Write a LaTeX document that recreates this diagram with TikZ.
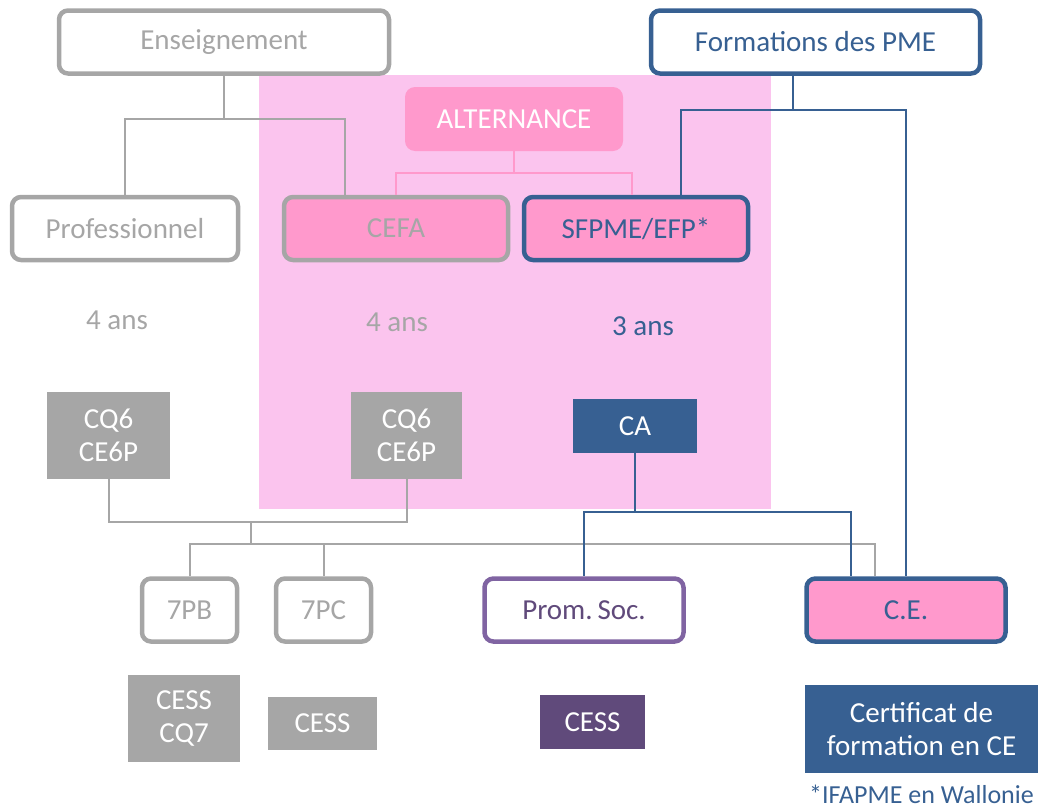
\documentclass[tikz,border=0pt]{standalone}
\usepackage{fontspec}
\setmainfont{Carlito}
\definecolor{cgray}{HTML}{A6A6A6}
\definecolor{cblue}{HTML}{376092}
\definecolor{cpink}{HTML}{FF99CC}
\definecolor{cpinkbg}{HTML}{FBC4EE}
\definecolor{cpurple}{HTML}{8064A2}
\definecolor{cdpurple}{HTML}{604A7B}
\tikzset{
    txt/.style={font=\fontsize{29}{33}\selectfont, inner sep=0pt, align=center},
    frame/.style={txt, draw, line width=4.5pt, rounded corners=9pt, fill=white, minimum height=63pt},
    tile/.style={txt, text=white},
    gline/.style={draw=cgray, line width=2pt},
    bline/.style={draw=cblue, line width=2.2pt},
    pline/.style={draw=cpink, line width=2pt}
}
\begin{document}
\begin{tikzpicture}[x=1pt, y=-1pt]
        \useasboundingbox (0,0) rectangle (1038,811);
        % bloc alternance
        \fill [cpinkbg] (259,75) rectangle (771,509);

        \node [frame, draw=cgray, text=cgray, minimum width=330pt] (Nens) at (224, 42) {Enseignement};
        \node [frame, draw=cblue, text=cblue, minimum width=329pt] (Nfor) at (815.5, 42) {Formations des PME};
        \node [tile, fill=cpink, rounded corners=10pt, minimum width=218pt, minimum height=64pt] (Nalt) at (514, 119) {ALTERNANCE};

        \node [frame, draw=cgray, text=cgray, minimum width=226pt] (Npro) at (125, 228.5) {Professionnel};
        \node [frame, draw=cgray, fill=cpink, text=cgray, minimum width=224pt] (Ncefa) at (396, 228.5) {CEFA};
        \node [frame, draw=cblue, fill=cpink, text=cblue, minimum width=224pt] (Nsfp) at (636, 228.5) {SFPME/EFP*};

        \node [txt, text=cgray] (Nan1) at (117, 320) {4 ans};
        \node [txt, text=cgray] (Nan2) at (397, 322) {4 ans};
        \node [txt, text=cblue] (Nan3) at (643, 326) {3 ans};

        \node [tile, fill=cgray, minimum width=123pt, minimum height=87pt] (Ncq1) at (108.5, 435.5) {CQ6\\CE6P};
        \node [tile, fill=cgray, minimum width=111pt, minimum height=87pt] (Ncq2) at (406.5, 435.5) {CQ6\\CE6P};
        \node [tile, fill=cblue, minimum width=124pt, minimum height=54pt] (Nca) at (635, 426) {CA};

        \node [frame, draw=cgray, text=cgray, minimum width=95pt] (N7pb) at (189.5, 610) {7PB};
        \node [frame, draw=cgray, text=cgray, minimum width=95pt] (N7pc) at (323.5, 610) {7PC};
        \node [frame, draw=cpurple, text=cdpurple, minimum width=199pt] (Nprom) at (584, 610) {\raisebox{-9pt}{Prom.\,Soc.}};
        \node [frame, draw=cblue, fill=cpink, text=cblue, minimum width=199pt] (Nce) at (906, 610) {C.E.};

        \node [tile, fill=cgray, minimum width=112pt, minimum height=87pt] (Ncess1) at (184, 718.5) {CESS\\CQ7};
        \node [tile, fill=cgray, minimum width=109pt, minimum height=53pt] (Ncess2) at (322.5, 723.5) {CESS};
        \node [tile, fill=cdpurple, minimum width=105pt, minimum height=54pt] (Ncess3) at (592.5, 722) {CESS};
        \node [tile, fill=cblue, minimum width=233pt, minimum height=88pt] (Ncert) at (921.5, 729) {Certificat de\\formation en CE};
        \node [txt, text=cblue, font=\fontsize{26}{30}\selectfont, anchor=east] (Nnote) at (1034, 794) {*IFAPME en Wallonie};

        % liaisons
        \coordinate (Jens) at (224, 119);
        \coordinate (Jalt) at (514, 173);
        \coordinate (Jfor) at (793, 110);
        \coordinate (Jcq) at (251, 522);
        \coordinate (Jlow) at (251, 544);
        \coordinate (Jca) at (635, 512);

        \draw [gline] (Nens) -- (Jens);
        \draw [gline] (Jens) -| (Npro.north);
        \draw [gline] (Jens) -| ([xshift=-51pt]Ncefa.north);

        \draw [pline] (Nalt) -- (Jalt);
        \draw [pline] (Jalt) -| (Ncefa.north);
        \draw [pline] (Jalt) -| ([xshift=-4pt]Nsfp.north);

        \draw [bline] ([xshift=-22.5pt]Nfor.south) -- (Jfor);
        \draw [bline] (Jfor) -| ([xshift=45pt]Nsfp.north);
        \draw [bline] (Jfor) -| (Nce.north);

        \draw [gline] (Ncq1.south) |- (Jcq) -| (Ncq2.south);
        \draw [gline] (Jcq) -- (Jlow);
        \draw [gline] (Jlow) -| (N7pb.north);
        \draw [gline] (Jlow) -| (N7pc.north);
        \draw [gline] (Jlow) -| ([xshift=-31pt]Nce.north);

        \draw [bline] (Nca) -- (Jca);
        \draw [bline] (Jca) -| (Nprom.north);
        \draw [bline] (Jca) -| ([xshift=-55pt]Nce.north);
\end{tikzpicture}
\end{document}
